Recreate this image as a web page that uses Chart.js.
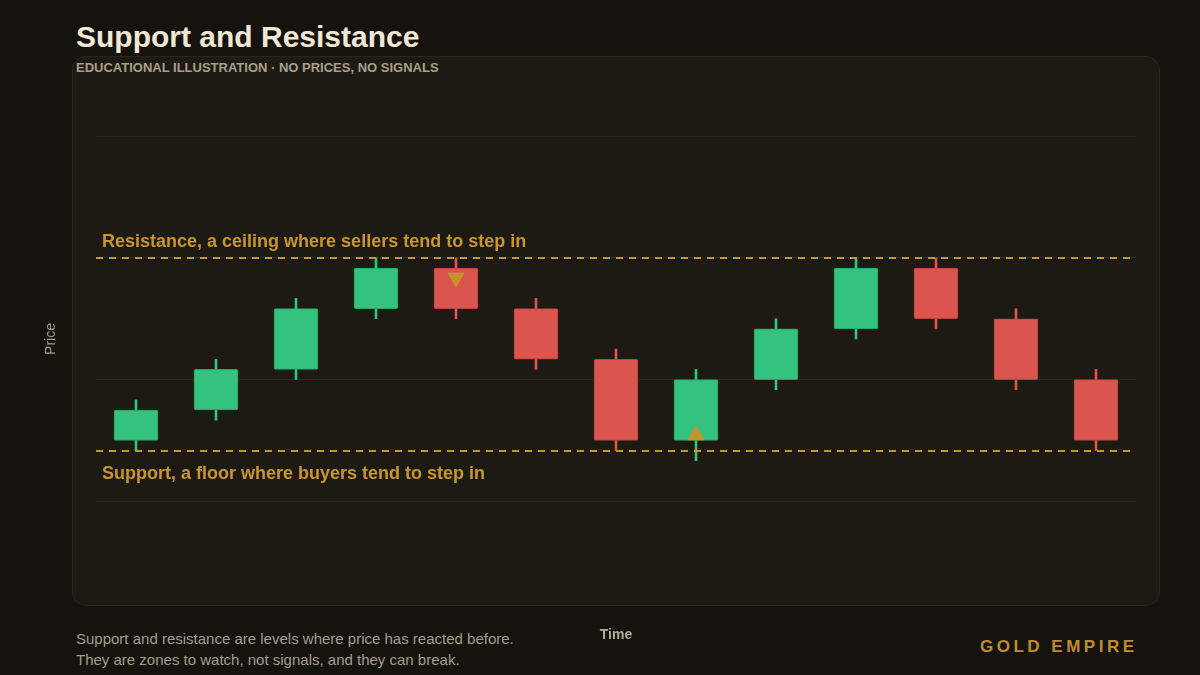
<!DOCTYPE html>
<html><head><meta charset="utf-8">
<script src="https://cdn.jsdelivr.net/npm/chart.js@4.4.1/dist/chart.umd.min.js"></script>
<style>
html,body{margin:0;padding:0;background:#15130e;}
body{width:1200px;height:675px;position:relative;overflow:hidden;font-family:"Liberation Sans",Arial,Helvetica,sans-serif;}
#card{position:absolute;left:72px;top:56px;width:1086px;height:548px;border:1px solid #2a271d;border-radius:14px;background:#1d1a14;}
.t{position:absolute;white-space:nowrap;}
#title{left:76px;top:22px;font-size:30px;line-height:30px;font-weight:bold;color:#f2e7d4;}
#sub{left:76px;top:61px;font-size:13px;line-height:13px;font-weight:bold;color:#a99f89;}
#foot{left:76px;top:628px;font-size:15px;line-height:21px;color:#a39d8c;}
#brand{left:980px;top:638px;font-size:17px;line-height:17px;font-weight:bold;letter-spacing:3.5px;color:#c08a2e;}
canvas{position:absolute;left:0;top:0;}
</style>
</head><body>
<div id="card"></div>
<div class="t" id="title">Support and Resistance</div>
<div class="t" id="sub">EDUCATIONAL ILLUSTRATION · NO PRICES, NO SIGNALS</div>
<div class="t" id="foot">Support and resistance are levels where price has reacted before.<br>They are zones to watch, not signals, and they can break.</div>
<div class="t" id="brand">GOLD EMPIRE</div>
<canvas id="c" width="1200" height="675"></canvas>
<script>
const labels = ['T1','T2','T3','T4','T5','T6','T7','T8','T9','T10','T11','T12','T13'];
const opens  = [6, 9, 13, 19, 23, 19, 14, 6, 12, 17, 23, 18, 12];
const closes = [9, 13, 19, 23, 19, 14, 6, 12, 17, 23, 18, 12, 6];
const highs  = [10, 14, 20, 24, 24, 20, 15, 13, 18, 24, 24, 19, 13];
const lows   = [5, 8, 12, 18, 18, 13, 5, 4, 11, 16, 17, 11, 5];
const resistanceLevel = 24;
const supportLevel = 5;
const resistanceText = 'Resistance, a ceiling where sellers tend to step in';
const supportText = 'Support, a floor where buyers tend to step in';
const rejectionMarkers = [{x: 'T5', y: 22.05}];
const bounceMarkers = [{x: 'T8', y: 6.5}];
const yGridTicks = [0, 12, 24, 36];

const UP = '#34c37e', DOWN = '#dc544e';
const UP_EDGE = '#2a9e66', DOWN_EDGE = '#b44540';
const GOLD = '#c9952f';
const isUp = opens.map((o, i) => closes[i] >= o);

const levelPlugin = {
  id: 'levels',
  afterDatasetsDraw(chart) {
    const {ctx, chartArea: {left, right}, scales: {y}} = chart;
    ctx.save();
    ctx.strokeStyle = GOLD; ctx.lineWidth = 2; ctx.setLineDash([7, 6]);
    [resistanceLevel, supportLevel].forEach(v => {
      const py = Math.round(y.getPixelForValue(v));
      ctx.beginPath(); ctx.moveTo(left, py); ctx.lineTo(right, py); ctx.stroke();
    });
    ctx.setLineDash([]);
    ctx.font = 'bold 18px "Liberation Sans", Arial, sans-serif';
    ctx.fillStyle = GOLD; ctx.textBaseline = 'alphabetic'; ctx.textAlign = 'left';
    ctx.fillText(resistanceText, left + 6, y.getPixelForValue(resistanceLevel) - 11);
    ctx.fillText(supportText, left + 6, y.getPixelForValue(supportLevel) + 28);
    ctx.restore();
  }
};

new Chart(document.getElementById('c'), {
  type: 'bar',
  data: {
    labels,
    datasets: [
      {
        type: 'line', data: rejectionMarkers, showLine: false, pointStyle: 'triangle',
        pointRadius: 10, pointRotation: 180, pointBackgroundColor: '#c8922b', pointBorderWidth: 0, order: 0
      },
      {
        type: 'line', data: bounceMarkers, showLine: false, pointStyle: 'triangle',
        pointRadius: 10, pointRotation: 0, pointBackgroundColor: '#c8922b', pointBorderWidth: 0, order: 0
      },
      {
        data: opens.map((o, i) => [o, closes[i]]), barThickness: 44, grouped: false,
        backgroundColor: isUp.map(u => u ? UP : DOWN), borderColor: isUp.map(u => u ? UP_EDGE : DOWN_EDGE),
        borderWidth: 1, borderSkipped: false, borderRadius: 2, order: 1
      },
      {
        data: lows.map((l, i) => [l, highs[i]]), barThickness: 2, grouped: false,
        backgroundColor: isUp.map(u => u ? UP : DOWN), borderWidth: 0, order: 2
      }
    ]
  },
  options: {
    responsive: false, animation: false,
    layout: {padding: {left: 39, right: 64, top: 55, bottom: 27}},
    plugins: {legend: {display: false}, tooltip: {enabled: false}},
    scales: {
      x: {
        offset: true, grid: {display: false}, border: {display: false}, ticks: {display: false},
        title: {display: true, text: 'Time', color: '#b3ab95', font: {size: 14, weight: 'bold', family: '"Liberation Sans", Arial, sans-serif'}, padding: {top: 4, bottom: 4}},
        afterFit: s => { s.height = 25; }
      },
      y: {
        min: -12, max: 44,
        grid: {color: '#2a2719', lineWidth: 1, drawTicks: false}, border: {display: false}, ticks: {display: false},
        afterBuildTicks: s => { s.ticks = yGridTicks.map(v => ({value: v})); },
        title: {display: true, text: 'Price', color: '#a39b86', font: {size: 14, family: '"Liberation Sans", Arial, sans-serif'}, padding: {top: 4, bottom: 4}},
        afterFit: s => { s.width = 57; }
      }
    }
  },
  plugins: [levelPlugin]
});
</script>
</body></html>
